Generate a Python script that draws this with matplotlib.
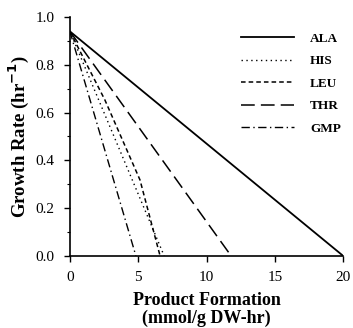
import matplotlib
matplotlib.use("Agg")
import matplotlib.pyplot as plt
from matplotlib.ticker import MultipleLocator

plt.rcParams['font.family'] = ['Liberation Serif', 'DejaVu Serif']

# Data (piecewise-linear trade-off lines: product formation vs growth rate)
ala_x = [0.0, 20.0]
ala_y = [0.94, 0.0]
his_x = [0.0, 6.9]
his_y = [0.94, 0.0]
leu_x = [0.0, 2.56, 5.13, 6.6]
leu_y = [0.94, 0.653, 0.318, 0.0]
thr_x = [0.0, 11.8]
thr_y = [0.94, 0.0]
gmp_x = [0.0, 4.83]
gmp_y = [0.94, 0.0]

labels = ["ALA", "HIS", "LEU", "THR", "GMP"]
xticks = [0, 5, 10, 15, 20]
yticks = [0.0, 0.2, 0.4, 0.6, 0.8, 1.0]

fig = plt.figure(figsize=(3.53, 3.28), dpi=100)
ax = fig.add_axes([0.198, 0.22, 0.774, 0.728])

ax.plot(ala_x, ala_y, color='black', lw=1.3, linestyle='-', label=labels[0])
ax.plot(his_x, his_y, color='black', lw=1.0, linestyle=(0, (1, 2.5)), label=labels[1])
ax.plot(leu_x, leu_y, color='black', lw=1.1, linestyle=(0, (3, 2)), label=labels[2])
ax.plot(thr_x, thr_y, color='black', lw=1.1, linestyle=(0, (9, 4)), label=labels[3])
ax.plot(gmp_x, gmp_y, color='black', lw=1.0, linestyle=(0, (6, 2.5, 1, 2.5)), label=labels[4])

ax.set_xlim(0, 20)
ax.set_ylim(0, 1.0)
ax.set_xticks(xticks)
ax.set_xticklabels([str(t) for t in xticks])
ax.set_yticks(yticks)
ax.set_yticklabels([f"{t:.1f}" for t in yticks])
ax.yaxis.set_minor_locator(MultipleLocator(0.1))

for s in ['top', 'right']:
    ax.spines[s].set_visible(False)
ax.spines['left'].set_linewidth(1.2)
ax.spines['bottom'].set_linewidth(1.2)
ax.tick_params(axis='both', which='major', direction='out', length=4, width=1, labelsize=11, pad=7)
ax.tick_params(axis='y', which='minor', direction='out', length=2.5, width=0.8)

ax.set_ylabel("Growth Rate (hr$^{\\mathbf{-1}}$)", fontsize=13.5, fontweight='bold', labelpad=3)
ax.set_xlabel("Product Formation\n(mmol/g DW-hr)", fontsize=13, fontweight='bold', labelpad=6, linespacing=1.05)

leg = ax.legend(loc='upper right', bbox_to_anchor=(1.035, 0.985), frameon=False,
                fontsize=9.5, handlelength=4.0, handletextpad=1.2, labelspacing=0.78)
for t in leg.get_texts():
    t.set_fontweight('bold')

fig.savefig("out.png", dpi=100)
